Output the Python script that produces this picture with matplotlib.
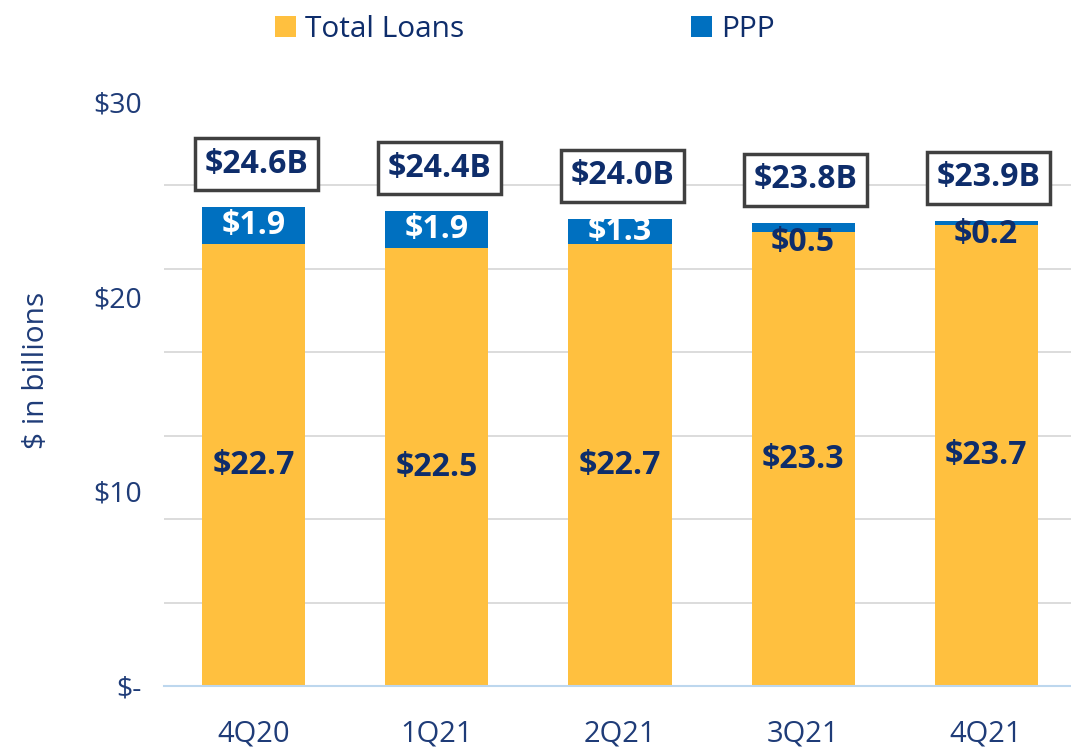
import matplotlib
matplotlib.use("Agg")
import matplotlib.pyplot as plt
import numpy as np
from matplotlib.patches import Patch

plt.rcParams['font.family'] = ['Open Sans', 'DejaVu Sans']

categories = ["4Q20", "1Q21", "2Q21", "3Q21", "4Q21"]
total_loans = [22.7, 22.5, 22.7, 23.3, 23.7]
ppp = [1.9, 1.9, 1.3, 0.5, 0.2]
totals_label = ["$24.6B", "$24.4B", "$24.0B", "$23.8B", "$23.9B"]
y_tick_vals = [0, 10, 20, 30]
y_tick_labels = ["$-", "$10", "$20", "$30"]

YELLOW = "#FFC03F"
BLUE = "#0070C0"
NAVY = "#0E2D6B"
TICK = "#1F3C78"

fig = plt.figure(figsize=(10.71, 7.49), dpi=100)
ax = fig.add_axes([0.153, 0.0841, 0.847, 0.7797])

x = np.arange(len(categories))
w = 0.563
ax.bar(x, total_loans, width=w, color=YELLOW, zorder=3)
ax.bar(x, ppp, width=w, bottom=total_loans, color=BLUE, zorder=3)

ax.set_xlim(-0.492, 4.464)
ax.set_ylim(0, 30)

# gridlines (7 equal intervals)
ax.set_yticks(np.linspace(0, 30, 8), minor=True)
ax.yaxis.grid(True, which='minor', color='#D9D9D9', lw=1.3, zorder=0)
ax.set_yticks(y_tick_vals)
ax.set_yticklabels(y_tick_labels)
ax.tick_params(axis='y', which='both', length=0, pad=16, labelsize=20.5, labelcolor=TICK)
ax.set_xticks(x)
ax.set_xticklabels(categories)
ax.tick_params(axis='x', length=0, pad=24, labelsize=21, labelcolor=TICK)

for s in ['top', 'right', 'left']:
    ax.spines[s].set_visible(False)
ax.spines['bottom'].set_color('#BDD7EE')
ax.spines['bottom'].set_linewidth(1.5)
ax.spines['bottom'].set_zorder(4)

ax.set_ylabel("$ in billions", fontsize=21.5, color=TICK)
ax.yaxis.set_label_coords(-0.124, 0.541)

fs = 23
for i in range(len(categories)):
    tl = total_loans[i]
    p = ppp[i]
    ax.text(x[i], tl / 2, f"${tl:.1f}", ha='center', va='center', fontsize=fs,
            fontweight='bold', color=NAVY, zorder=5)
    if p >= 1.0:
        ax.text(x[i], tl + p / 2, f"${p:.1f}", ha='center', va='center', fontsize=fs,
                fontweight='bold', color='white', zorder=5)
    else:
        ax.text(x[i], tl - 0.5, f"${p:.1f}", ha='center', va='center', fontsize=fs,
                fontweight='bold', color=NAVY, zorder=5)
    ax.text(x[i] + 0.015, tl + p + 2.2, totals_label[i], ha='center', va='center',
            fontsize=fs, fontweight='bold', color=NAVY, zorder=6,
            bbox=dict(boxstyle='square,pad=0.3', facecolor='white',
                      edgecolor='#404040', linewidth=2.5))

handles = [Patch(facecolor=YELLOW, label="Total Loans"), Patch(facecolor=BLUE, label="PPP")]
fig.legend(handles=handles, loc='center', bbox_to_anchor=(0.49, 0.961), ncol=2,
           frameon=False, fontsize=21.5, handlelength=0.7, handleheight=0.7,
           handletextpad=0.3, columnspacing=7.6, labelcolor=NAVY)

fig.savefig("out.png", dpi=100)
